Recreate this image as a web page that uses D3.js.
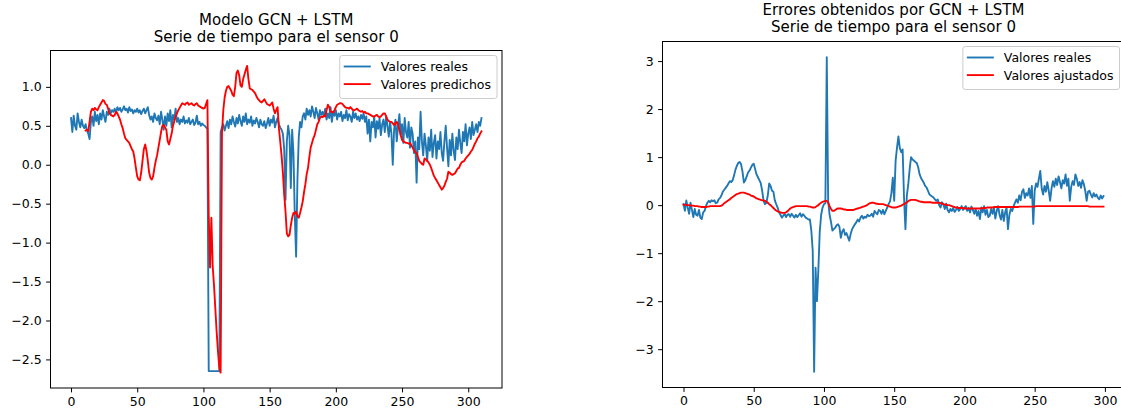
<!DOCTYPE html>
<html><head><meta charset="utf-8">
<script src="https://cdn.jsdelivr.net/npm/d3@7"></script>
<style>
body{margin:0;background:#fff}
svg{display:block}
text{font-family:"DejaVu Sans",sans-serif;fill:#000}
</style>
</head><body>
<svg id="c" width="1121" height="412"></svg>
<script>
const xTicks = [0, 50, 100, 150, 200, 250, 300];
const leftYTicks = [-2.5, -2, -1.5, -1, -0.5, 0, 0.5, 1];
const rightYTicks = [-3, -2, -1, 0, 1, 2, 3];

const titlesLeft = ["Modelo GCN + LSTM", "Serie de tiempo para el sensor 0"];
const titlesRight = ["Errores obtenidos por GCN + LSTM", "Serie de tiempo para el sensor 0"];
const legendLeft = ["Valores reales", "Valores predichos"];
const legendRight = ["Valores reales", "Valores ajustados"];

// Left panel: real values (index 0..310)
const realLeft = [
  0.60, 0.42, 0.63, 0.50, 0.45, 0.66, 0.55, 0.48, 0.58, 0.50,
  0.47, 0.52, 0.44, 0.40, 0.33, 0.55, 0.62, 0.50, 0.68, 0.56,
  0.64, 0.52, 0.66, 0.58, 0.70, 0.62, 0.55, 0.68, 0.64, 0.72,
  0.66, 0.70, 0.68, 0.72, 0.66, 0.74, 0.70, 0.73, 0.68, 0.71,
  0.75, 0.70, 0.72, 0.67, 0.74, 0.69, 0.71, 0.66, 0.70, 0.68,
  0.72, 0.67, 0.70, 0.65, 0.69, 0.72, 0.66, 0.70, 0.74, 0.64,
  0.58, 0.62, 0.55, 0.66, 0.60, 0.57, 0.63, 0.52, 0.68, 0.58,
  0.45, 0.62, 0.50, 0.66, 0.56, 0.70, 0.48, 0.64, 0.58, 0.72,
  0.55, 0.60, 0.52, 0.58, 0.55, 0.62, 0.53, 0.57, 0.54, 0.60,
  0.52, 0.55, 0.58, 0.51, 0.54, 0.63, 0.52, 0.55, 0.50, 0.53,
  0.51, 0.50, 0.48, 0.46, -2.65, -2.65, -2.65, -2.65, -2.65, -2.65,
  -2.65, -2.65, -2.65, 0.42, 0.48, 0.52, 0.44, 0.50, 0.56, 0.47,
  0.58, 0.52, 0.62, 0.55, 0.49, 0.60, 0.53, 0.64, 0.56, 0.50,
  0.62, 0.55, 0.66, 0.52, 0.58, 0.54, 0.62, 0.50, 0.57, 0.53,
  0.60, 0.55, 0.48, 0.58, 0.52, 0.50, 0.56, 0.47, 0.53, 0.60,
  0.50, 0.58, 0.54, 0.63, 0.48, 0.55, 0.60, 0.52, 0.48, 0.45,
  0.40, 0.20, -0.45, 0.30, 0.50, 0.38, -0.30, 0.45, 0.15, -0.65,
  -1.18, -0.20, 0.35, 0.55, 0.48, 0.62, 0.66, 0.58, 0.72, 0.64,
  0.70, 0.62, 0.75, 0.68, 0.60, 0.73, 0.66, 0.58, 0.70, 0.64,
  0.68, 0.62, 0.72, 0.58, 0.66, 0.60, 0.74, 0.55, 0.68, 0.63,
  0.70, 0.58, 0.66, 0.62, 0.68, 0.56, 0.64, 0.60, 0.70, 0.57,
  0.65, 0.62, 0.55, 0.68, 0.60, 0.66, 0.58, 0.62, 0.56, 0.64,
  0.59, 0.66, 0.55, 0.62, 0.40, 0.58, 0.30, 0.55, 0.48, 0.62,
  0.35, 0.56, 0.46, 0.60, 0.38, 0.52, 0.58, 0.42, 0.62, 0.50,
  0.36, 0.55, 0.40, 0.00, 0.45, 0.58, 0.30, 0.50, 0.65, 0.38,
  0.52, 0.28, 0.60, 0.42, 0.35, 0.55, 0.22, 0.48, 0.40, 0.15,
  0.30, -0.23, 0.35, 0.20, 0.68, 0.30, 0.12, 0.40, 0.25, 0.05,
  0.35, 0.18, 0.45, 0.10, 0.28, 0.38, 0.08, 0.30, 0.20, 0.42,
  0.15, 0.05, 0.30, 0.50, 0.22, -0.02, 0.32, 0.12, 0.40, 0.18,
  0.06, 0.35, 0.20, 0.45, 0.28, 0.15, 0.42, 0.30, 0.52, 0.25,
  0.40, 0.48, 0.33, 0.55, 0.38, 0.45, 0.52, 0.42, 0.55, 0.50,
  0.60
];

// Left panel: predicted values, starting at index predStart
const predStart = 11;
const predLeft = [
  0.44, 0.45, 0.43, 0.55, 0.68, 0.72, 0.70, 0.73, 0.71, 0.70,
  0.74, 0.77, 0.80, 0.83, 0.82, 0.78, 0.77, 0.72, 0.66, 0.64,
  0.63, 0.62, 0.64, 0.68, 0.66, 0.62, 0.58, 0.52, 0.47, 0.40,
  0.34, 0.32, 0.30, 0.28, 0.24, 0.20, 0.17, 0.08, -0.04, -0.15,
  -0.19, -0.20, -0.10, 0.05, 0.20, 0.26, 0.18, 0.05, -0.10, -0.17,
  -0.19, -0.15, -0.04, 0.05, 0.12, 0.22, 0.32, 0.42, 0.50, 0.51,
  0.48, 0.45, 0.30, 0.26, 0.33, 0.40, 0.50, 0.56, 0.62, 0.66,
  0.70, 0.73, 0.76, 0.79, 0.78, 0.77, 0.79, 0.80, 0.77, 0.78,
  0.79, 0.77, 0.76, 0.78, 0.79, 0.76, 0.75, 0.74, 0.73, 0.72,
  0.73, 0.78, 0.83, -0.65, -1.32, -0.68, -1.30, -1.55, -1.85, -2.15,
  -2.40, -2.60, -2.67, 0.40, 0.70, 0.86, 0.95, 1.00, 1.01, 0.98,
  0.95, 0.90, 0.88, 1.00, 1.18, 1.21, 1.15, 1.02, 1.00, 1.10,
  1.16, 1.22, 1.27, 1.10, 0.98, 0.97, 0.96, 0.94, 0.92, 0.88,
  0.85, 0.83, 0.81, 0.80, 0.82, 0.84, 0.81, 0.78, 0.77, 0.76,
  0.78, 0.80, 0.72, 0.66, 0.70, 0.74, 0.47, 0.30, 0.12, -0.10,
  -0.38, -0.60, -0.88, -0.92, -0.90, -0.78, -0.68, -0.62, -0.63, -0.60,
  -0.66, -0.68, -0.62, -0.55, -0.47, -0.35, -0.25, -0.12, -0.04, 0.10,
  0.22, 0.28, 0.34, 0.38, 0.45, 0.52, 0.55, 0.60, 0.62, 0.61,
  0.63, 0.62, 0.70, 0.77, 0.74, 0.68, 0.68, 0.67, 0.70, 0.74,
  0.77, 0.78, 0.79, 0.79, 0.78, 0.76, 0.74, 0.73, 0.73, 0.72,
  0.74, 0.72, 0.70, 0.70, 0.71, 0.72, 0.70, 0.69, 0.68, 0.69,
  0.67, 0.68, 0.66, 0.66, 0.65, 0.64, 0.63, 0.62, 0.62, 0.63,
  0.64, 0.62, 0.61, 0.62, 0.64, 0.66, 0.66, 0.62, 0.58, 0.56,
  0.55, 0.55, 0.53, 0.51, 0.53, 0.55, 0.52, 0.45, 0.38, 0.32,
  0.30, 0.29, 0.28, 0.28, 0.27, 0.28, 0.25, 0.22, 0.19, 0.16,
  0.15, 0.10, 0.05, 0.03, 0.01, 0.00, 0.08, 0.07, 0.05, 0.03,
  0.00, -0.04, -0.09, -0.14, -0.17, -0.20, -0.23, -0.26, -0.29, -0.32,
  -0.30, -0.27, -0.22, -0.18, -0.09, -0.10, -0.12, -0.13, -0.12, -0.11,
  -0.08, -0.05, -0.04, 0.00, 0.03, 0.04, 0.05, 0.08, 0.10, 0.12,
  0.14, 0.17, 0.19, 0.23, 0.27, 0.30, 0.34, 0.36, 0.40, 0.43
];

// Right panel: errors (index 0..299)
const realRight = [
  0.02, -0.12, 0.10, -0.05, -0.18, 0.05, -0.10, -0.25, -0.08, -0.20,
  -0.22, -0.10, -0.26, -0.29, -0.15, -0.12, -0.02, 0.05, 0.09, 0.06,
  0.10, 0.08, 0.10, 0.04, 0.05, 0.12, 0.15, 0.20, 0.28, 0.32,
  0.36, 0.40, 0.45, 0.50, 0.48, 0.52, 0.62, 0.74, 0.82, 0.88,
  0.90, 0.85, 0.70, 0.47, 0.52, 0.60, 0.68, 0.72, 0.78, 0.84,
  0.86, 0.75, 0.64, 0.58, 0.52, 0.46, 0.30, 0.09, 0.02, 0.05,
  0.20, 0.45, 0.40, 0.30, 0.28, 0.10, 0.02, -0.05, -0.15, -0.20,
  -0.26, -0.22, -0.18, -0.25, -0.20, -0.19, -0.24, -0.18, -0.22, -0.26,
  -0.20, -0.25, -0.21, -0.17, -0.24, -0.19, -0.22, -0.26, -0.28, -0.30,
  -0.30, -0.53, -0.95, -3.47, -1.30, -2.00, -1.35, -0.55, -0.20, -0.05,
  0.02, 0.04, 3.08, 0.08, -0.20, -0.35, -0.53, -0.50, -0.47, -0.42,
  -0.40, -0.45, -0.68, -0.55, -0.50, -0.62, -0.58, -0.66, -0.74, -0.60,
  -0.50, -0.45, -0.40, -0.36, -0.30, -0.34, -0.26, -0.22, -0.28, -0.24,
  -0.26, -0.20, -0.23, -0.22, -0.18, -0.24, -0.12, -0.16, -0.19, -0.10,
  -0.12, -0.18, -0.10, -0.19, -0.12, -0.05, 0.02, 0.08, 0.25, 0.57,
  0.09, 0.92, 1.20, 1.43, 1.19, 1.10, 1.16, 0.15, -0.50, 0.20,
  0.43, 0.75, 1.00, 0.95, 0.93, 0.90, 0.88, 0.80, 0.65, 0.57,
  0.52, 0.47, 0.40, 0.37, 0.30, 0.23, 0.20, 0.18, 0.16, 0.12,
  0.09, 0.12, 0.00, -0.05, 0.06, 0.02, -0.08, 0.03, -0.10, -0.15,
  -0.08, -0.12, -0.06, -0.14, -0.10, -0.04, -0.12, -0.08, -0.02, -0.10,
  -0.05, -0.02, -0.12, -0.06, -0.15, -0.03, -0.10, -0.18, -0.08, -0.22,
  -0.12, -0.29, -0.05, -0.15, -0.02, -0.20, -0.10, -0.25, -0.22, -0.08,
  -0.18, -0.05, -0.28, -0.12, -0.02, -0.20, -0.30, -0.10, -0.33, -0.15,
  -0.05, -0.50, -0.20, -0.08, -0.12, -0.02, 0.05, 0.12, 0.05, 0.20,
  0.10, 0.28, 0.33, 0.15, 0.25, 0.20, 0.35, 0.15, 0.40, -0.39,
  0.30, 0.45, 0.38, 0.55, 0.71, 0.35, 0.22, 0.40, 0.28, 0.48,
  0.30, 0.09, 0.35, 0.50, 0.38, 0.55, 0.42, 0.60, 0.48, 0.35,
  0.52, 0.45, 0.64, 0.40, 0.55, 0.09, 0.38, 0.50, 0.42, 0.64,
  0.55, 0.40, 0.48, 0.36, 0.52, 0.44, 0.30, 0.09, 0.28, 0.30,
  0.22, 0.16, 0.25, 0.18, 0.22, 0.15, 0.12, 0.20, 0.14, 0.19
];

// Right panel: fitted values (index 0..299)
const fitRight = [
  0.01, 0.01, 0.00, 0.00, 0.00, -0.01, -0.01, -0.01, -0.02, -0.02,
  -0.02, -0.03, -0.03, -0.04, -0.04, -0.04, -0.04, -0.03, -0.03, -0.02,
  -0.02, -0.02, -0.02, -0.02, -0.02, -0.02, -0.02, -0.01, 0.01, 0.04,
  0.06, 0.08, 0.10, 0.12, 0.15, 0.17, 0.19, 0.21, 0.23, 0.24,
  0.25, 0.26, 0.26, 0.26, 0.25, 0.24, 0.23, 0.22, 0.20, 0.19,
  0.18, 0.16, 0.14, 0.13, 0.12, 0.11, 0.10, 0.10, 0.09, 0.07,
  0.05, 0.02, 0.00, -0.03, -0.06, -0.09, -0.11, -0.13, -0.14, -0.15,
  -0.16, -0.16, -0.16, -0.15, -0.13, -0.10, -0.07, -0.05, -0.04, -0.03,
  -0.02, -0.02, -0.02, -0.02, -0.02, -0.02, -0.02, -0.02, -0.02, -0.03,
  -0.03, -0.04, -0.05, -0.05, -0.04, -0.02, 0.00, 0.03, 0.05, 0.07,
  0.08, 0.09, 0.09, 0.05, -0.02, -0.08, -0.12, -0.12, -0.10, -0.08,
  -0.07, -0.07, -0.07, -0.08, -0.09, -0.09, -0.10, -0.10, -0.10, -0.10,
  -0.10, -0.10, -0.09, -0.08, -0.07, -0.06, -0.05, -0.04, -0.03, -0.02,
  -0.01, 0.01, 0.03, 0.04, 0.05, 0.05, 0.04, 0.03, 0.03, 0.02,
  0.02, 0.02, 0.02, 0.01, 0.00, -0.01, -0.02, -0.03, -0.04, -0.05,
  -0.05, -0.05, -0.04, -0.03, -0.02, -0.01, 0.01, 0.02, 0.04, 0.06,
  0.08, 0.10, 0.11, 0.11, 0.11, 0.11, 0.10, 0.09, 0.08, 0.07,
  0.07, 0.06, 0.06, 0.06, 0.06, 0.06, 0.06, 0.05, 0.05, 0.05,
  0.05, 0.05, 0.05, 0.04, 0.03, 0.02, 0.01, 0.01, 0.00, 0.00,
  -0.01, -0.02, -0.03, -0.04, -0.05, -0.05, -0.06, -0.06, -0.06, -0.06,
  -0.07, -0.07, -0.07, -0.07, -0.07, -0.07, -0.07, -0.07, -0.07, -0.07,
  -0.07, -0.07, -0.07, -0.06, -0.06, -0.06, -0.05, -0.05, -0.05, -0.05,
  -0.05, -0.04, -0.04, -0.04, -0.04, -0.04, -0.04, -0.04, -0.04, -0.04,
  -0.04, -0.04, -0.04, -0.04, -0.04, -0.04, -0.04, -0.04, -0.04, -0.03,
  -0.03, -0.03, -0.03, -0.03, -0.03, -0.03, -0.03, -0.03, -0.03, -0.03,
  -0.03, -0.02, -0.02, -0.02, -0.02, -0.02, -0.02, -0.02, -0.02, -0.02,
  -0.02, -0.02, -0.02, -0.02, -0.02, -0.02, -0.02, -0.02, -0.02, -0.02,
  -0.02, -0.02, -0.02, -0.02, -0.02, -0.02, -0.02, -0.02, -0.02, -0.02,
  -0.02, -0.02, -0.02, -0.02, -0.02, -0.02, -0.02, -0.02, -0.02, -0.03,
  -0.03, -0.03, -0.03, -0.03, -0.03, -0.03, -0.03, -0.03, -0.03, -0.03
];

const BLUE = "#1f77b4", RED = "#ff0000";
const svg = d3.select("#c");

function padded(lo, hi) { const m = (hi - lo) * 0.05; return [lo - m, hi + m]; }

function panel(cfg, idx) {
  const { left, top, width, height } = cfg;
  const allX = [], allY = [];
  cfg.series.forEach(s => s.values.forEach((v, i) => { allX.push(s.x0 + i); allY.push(v); }));
  const x = d3.scaleLinear().domain(padded(d3.min(allX), d3.max(allX))).range([left, left + width]);
  const y = d3.scaleLinear().domain(padded(d3.min(allY), d3.max(allY))).range([top + height, top]);

  const clipId = "clip" + idx;
  svg.append("clipPath").attr("id", clipId).append("rect")
    .attr("x", left).attr("y", top).attr("width", width).attr("height", height);

  const g = svg.append("g");
  const line = d3.line().x(d => x(d[0])).y(d => y(d[1]));
  cfg.series.forEach(s => {
    g.append("path")
      .datum(s.values.map((v, i) => [s.x0 + i, v]))
      .attr("clip-path", `url(#${clipId})`)
      .attr("fill", "none").attr("stroke", s.color)
      .attr("stroke-width", 1.875).attr("stroke-linejoin", "round").attr("stroke-linecap", "square")
      .attr("d", line);
  });

  // axes
  const xAxis = d3.axisBottom(x).tickValues(cfg.xTicks).tickSize(4.4).tickPadding(4.4).tickFormat(d3.format("d"));
  const yAxis = d3.axisLeft(y).tickValues(cfg.yTicks).tickSize(4.4).tickPadding(4.4).tickFormat(cfg.yFormat);
  const gx = svg.append("g").attr("transform", `translate(0,${top + height})`).call(xAxis);
  const gy = svg.append("g").attr("transform", `translate(${left},0)`).call(yAxis);
  [gx, gy].forEach(a => {
    a.select(".domain").remove();
    a.selectAll("line").attr("stroke", "#000").attr("stroke-width", 1);
    a.selectAll("text").attr("font-size", "12.5px").attr("font-family", "DejaVu Sans").attr("fill", "#000");
  });

  // spines
  svg.append("rect").attr("x", left).attr("y", top).attr("width", width).attr("height", height)
    .attr("fill", "none").attr("stroke", "#000").attr("stroke-width", 1);

  // titles
  const cx = left + width / 2;
  cfg.titles.forEach((t, i) => {
    svg.append("text").attr("x", cx).attr("y", cfg.titleY[i]).attr("text-anchor", "middle")
      .attr("font-size", "15px").text(t);
  });

  // legend
  const lg = svg.append("g");
  const box = lg.append("rect").attr("rx", 2.5).attr("ry", 2.5)
    .attr("fill", "#fff").attr("fill-opacity", 0.8).attr("stroke", "#cccccc").attr("stroke-width", 1);
  const texts = cfg.legend.map((lab, i) => lg.append("text").attr("font-size", "12.5px").text(lab));
  const tw = d3.max(texts, t => t.node().getComputedTextLength());
  const bw = 4 + 27 + 10 + tw + 6;
  const bh = 43;
  const bx = left + width - 5 - bw;
  const by = top + 5;
  box.attr("x", bx).attr("y", by).attr("width", bw).attr("height", bh);
  cfg.series.forEach((s, i) => {
    const ly = by + 11 + i * 17.6;
    lg.append("line").attr("x1", bx + 4).attr("x2", bx + 31).attr("y1", ly).attr("y2", ly)
      .attr("stroke", s.color).attr("stroke-width", 1.875);
    texts[i].attr("x", bx + 41).attr("y", ly + 4.5);
  });
}

panel({
  left: 50.5, top: 50.5, width: 451.5, height: 337.5,
  series: [
    { x0: 0, values: realLeft, color: BLUE },
    { x0: predStart, values: predLeft, color: RED }
  ],
  xTicks: xTicks, yTicks: leftYTicks, yFormat: d3.format(".1f"),
  titles: titlesLeft, titleY: [24.5, 41.5], legend: legendLeft
}, 0);

panel({
  left: 662.5, top: 41.5, width: 462, height: 346,
  series: [
    { x0: 0, values: realRight, color: BLUE },
    { x0: 0, values: fitRight, color: RED }
  ],
  xTicks: xTicks, yTicks: rightYTicks, yFormat: d3.format("d"),
  titles: titlesRight, titleY: [14.5, 31.5], legend: legendRight
}, 1);
</script>
</body></html>
